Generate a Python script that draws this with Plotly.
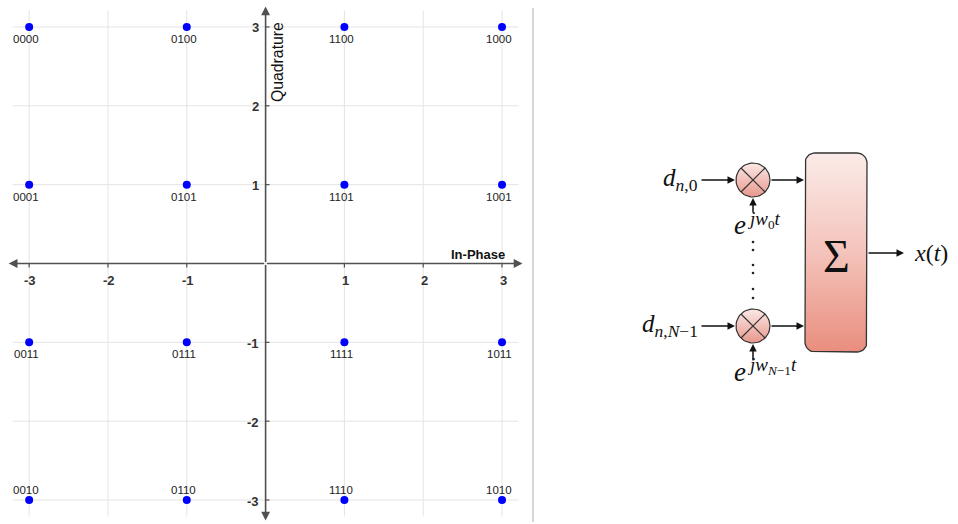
import numpy as np
import plotly.graph_objects as go

# ---------------- data (16-QAM constellation) ----------------
i_levels = [-3, -1, 1, 3]
q_levels = [3, 1, -1, -3]
symbol_labels = [
    ["0000", "0100", "1100", "1000"],
    ["0001", "0101", "1101", "1001"],
    ["0011", "0111", "1111", "1011"],
    ["0010", "0110", "1110", "1010"],
]
x_tick_vals = [-3, -2, -1, 1, 2, 3]
y_tick_vals = [3, 2, 1, -1, -2, -3]
grid_vals = [-3, -2, -1, 0, 1, 2, 3]

# ---------------- block diagram parameters (pixel space of panel 2) ----------------
IN_Y = [180, 326]
MULT_X = 753
MULT_R = 17
BOX = dict(x0=805, x1=867, y0=153, y1=352, r=10)
DOT_Y = [242, 250, 265, 273, 289, 298]
OUT_Y = 253

AXIS_COLOR = "#505050"
GRID_COLOR = "#e4e4e4"
GRID_EXT = 3.21
AXIS_EXT = 3.26

fig = go.Figure()

# ---------------- constellation points ----------------
xs, ys, labs = [], [], []
for r, q in enumerate(q_levels):
    for c, i in enumerate(i_levels):
        xs.append(i)
        ys.append(q)
        labs.append(symbol_labels[r][c])

fig.add_trace(go.Scatter(
    x=xs, y=ys, mode="markers",
    marker=dict(color="#0000ff", size=8),
    hoverinfo="skip", xaxis="x", yaxis="y",
))

shapes = []
annotations = []

# gridlines
for g in grid_vals:
    shapes.append(dict(type="line", xref="x", yref="y", x0=g, x1=g, y0=-GRID_EXT, y1=GRID_EXT,
                       line=dict(color=GRID_COLOR, width=1), layer="below"))
    shapes.append(dict(type="line", xref="x", yref="y", y0=g, y1=g, x0=-GRID_EXT, x1=GRID_EXT,
                       line=dict(color=GRID_COLOR, width=1), layer="below"))

# axes with arrow heads at both ends
for (tx, ty) in [(AXIS_EXT, 0), (-AXIS_EXT, 0), (0, AXIS_EXT), (0, -AXIS_EXT)]:
    annotations.append(dict(
        x=tx, y=ty, ax=0, ay=0, xref="x", yref="y", axref="x", ayref="y",
        text="", showarrow=True, arrowhead=2, arrowsize=1.1, arrowwidth=1.6,
        arrowcolor=AXIS_COLOR,
    ))

# tick marks + tick labels
for v in x_tick_vals:
    annotations.append(dict(x=v, y=0, xref="x", yref="y", text=f"<b>{v}</b>", showarrow=False,
                            yshift=-17, xshift=1, font=dict(family="Liberation Sans, Arial", size=13, color="#333333")))
for v in y_tick_vals:
    annotations.append(dict(x=0, y=v, xref="x", yref="y", text=f"<b>{v}</b>", showarrow=False,
                            xanchor="right", xshift=-5, yshift=-1,
                            font=dict(family="Liberation Sans, Arial", size=13, color="#333333")))
    shapes.append(dict(type="line", xref="x", yref="y", x0=0, x1=0.05, y0=v, y1=v,
                       line=dict(color=AXIS_COLOR, width=1.2)))
for v in x_tick_vals:
    shapes.append(dict(type="line", xref="x", yref="y", x0=v, x1=v, y0=0, y1=-0.05,
                       line=dict(color=AXIS_COLOR, width=1.2)))

# axis titles
annotations.append(dict(x=2.7, y=0, xref="x", yref="y", text="<b>In-Phase</b>", showarrow=False,
                        yshift=9, font=dict(family="Liberation Sans, Arial", size=13, color="#111111")))
annotations.append(dict(x=0, y=2.55, xref="x", yref="y", text="Quadrature", showarrow=False,
                        textangle=-90, xshift=12,
                        font=dict(family="Liberation Sans, Arial", size=15.8, color="#111111")))

# point labels
for x, y, t in zip(xs, ys, labs):
    annotations.append(dict(x=x, y=y, xref="x", yref="y", text=t, showarrow=False,
                            xshift=-3, yshift=(10 if y < -2 else -12),
                            font=dict(family="Liberation Sans, Arial", size=11.5, color="#222222")))

# divider
shapes.append(dict(type="line", xref="paper", yref="paper", x0=533 / 958, x1=533 / 958,
                   y0=2 / 524, y1=516 / 524, line=dict(color="#c8c8c8", width=1.5)))

# ---------------- block diagram ----------------
# summing box (rounded rectangle with vertical gradient)
x0, x1, y0, y1, rr = BOX["x0"], BOX["x1"], BOX["y0"], BOX["y1"], BOX["r"]
bx, by = [], []
for (cx, cy, a0) in [(x1 - rr, y0 + rr, -90), (x1 - rr, y1 - rr, 0), (x0 + rr, y1 - rr, 90), (x0 + rr, y0 + rr, 180)]:
    ang = np.radians(np.linspace(a0, a0 + 90, 10))
    bx += list(cx + rr * np.cos(ang))
    by += list(cy + rr * np.sin(ang))
bx.append(bx[0]); by.append(by[0])
fig.add_trace(go.Scatter(
    x=bx, y=by, mode="lines", fill="toself",
    fillgradient=dict(type="vertical", colorscale=[[0, "#e98e7e"], [0.5, "#f4c3bb"], [1, "#fbebe8"]]),
    line=dict(color="#333333", width=1.3), hoverinfo="skip", xaxis="x2", yaxis="y2",
))

# multipliers
ang = np.linspace(0, 2 * np.pi, 60)
for cy in IN_Y:
    fig.add_trace(go.Scatter(
        x=MULT_X + MULT_R * np.cos(ang), y=cy + MULT_R * np.sin(ang), mode="lines", fill="toself",
        fillgradient=dict(type="vertical", colorscale=[[0, "#e8978c"], [1, "#fce9e6"]]),
        line=dict(color="#333333", width=1.2), hoverinfo="skip", xaxis="x2", yaxis="y2",
    ))
    d = MULT_R * np.cos(np.pi / 4)
    shapes.append(dict(type="line", xref="x2", yref="y2", x0=MULT_X - d, x1=MULT_X + d, y0=cy - d, y1=cy + d,
                       line=dict(color="#333333", width=1.2)))
    shapes.append(dict(type="line", xref="x2", yref="y2", x0=MULT_X - d, x1=MULT_X + d, y0=cy + d, y1=cy - d,
                       line=dict(color="#333333", width=1.2)))

# vertical dots
fig.add_trace(go.Scatter(x=[MULT_X] * len(DOT_Y), y=DOT_Y, mode="markers",
                         marker=dict(color="#222222", size=2.6), hoverinfo="skip", xaxis="x2", yaxis="y2"))

def arrow(xt, yt, xa, ya):
    annotations.append(dict(x=xt, y=yt, ax=xa, ay=ya, xref="x2", yref="y2", axref="x2", ayref="y2",
                            text="", showarrow=True, arrowhead=2, arrowsize=1, arrowwidth=1.5,
                            arrowcolor="#111111"))

for cy in IN_Y:
    arrow(MULT_X - MULT_R - 1, cy, 700, cy)
    arrow(x0 - 1, cy, MULT_X + MULT_R, cy)
arrow(MULT_X, IN_Y[0] + MULT_R + 1, MULT_X, 214)
arrow(MULT_X, IN_Y[1] + MULT_R + 1, MULT_X, 362)
arrow(904, OUT_Y, x1, OUT_Y)

SERIF = "Liberation Serif, DejaVu Serif, serif"
TXT = "#111111"
annotations += [
    dict(x=700, y=IN_Y[0] - 1, xref="x2", yref="y2", xanchor="right", showarrow=False,
         text="<i>d</i><sub><i>n</i>,0</sub>", font=dict(family=SERIF, size=25, color=TXT)),
    dict(x=700, y=IN_Y[1] - 1, xref="x2", yref="y2", xanchor="right", showarrow=False,
         text="<i>d</i><sub><i>n</i>,<i>N</i>−1</sub>", font=dict(family=SERIF, size=25, color=TXT)),
    # e^{j w_0 t}
    dict(x=732, y=225, xref="x2", yref="y2", xanchor="left", showarrow=False,
         text="<i>e</i>", font=dict(family=SERIF, size=27, color=TXT)),
    dict(x=745, y=220, xref="x2", yref="y2", xanchor="left", showarrow=False,
         text="<i>jw</i><sub>0</sub><i>t</i>", font=dict(family=SERIF, size=19, color=TXT)),
    # e^{j w_{N-1} t}
    dict(x=732, y=372, xref="x2", yref="y2", xanchor="left", showarrow=False,
         text="<i>e</i>", font=dict(family=SERIF, size=27, color=TXT)),
    dict(x=745, y=366, xref="x2", yref="y2", xanchor="left", showarrow=False,
         text="<i>jw</i><sub><i>N</i>−1</sub><i>t</i>", font=dict(family=SERIF, size=19, color=TXT)),
    dict(x=836, y=256, xref="x2", yref="y2", showarrow=False,
         text="Σ", font=dict(family=SERIF, size=46, color=TXT)),
    dict(x=912, y=OUT_Y, xref="x2", yref="y2", xanchor="left", showarrow=False,
         text="<i>x</i>(<i>t</i>)", font=dict(family=SERIF, size=24, color=TXT)),
]

fig.update_layout(
    width=958, height=524, margin=dict(l=0, r=0, t=0, b=0),
    paper_bgcolor="white", plot_bgcolor="white", showlegend=False,
    xaxis=dict(domain=[0, 530 / 958], range=[-3.37, 3.355], visible=False),
    yaxis=dict(domain=[0, 1], range=[-3.304, 3.342], visible=False),
    xaxis2=dict(domain=[540 / 958, 1], range=[540, 958], visible=False, anchor="y2"),
    yaxis2=dict(domain=[0, 1], range=[524, 0], visible=False, anchor="x2"),
    shapes=shapes, annotations=annotations,
)

fig.write_html("out.html", config={"displayModeBar": False},
               post_script="document.body.style.margin='0px';document.body.style.overflow='hidden';")
